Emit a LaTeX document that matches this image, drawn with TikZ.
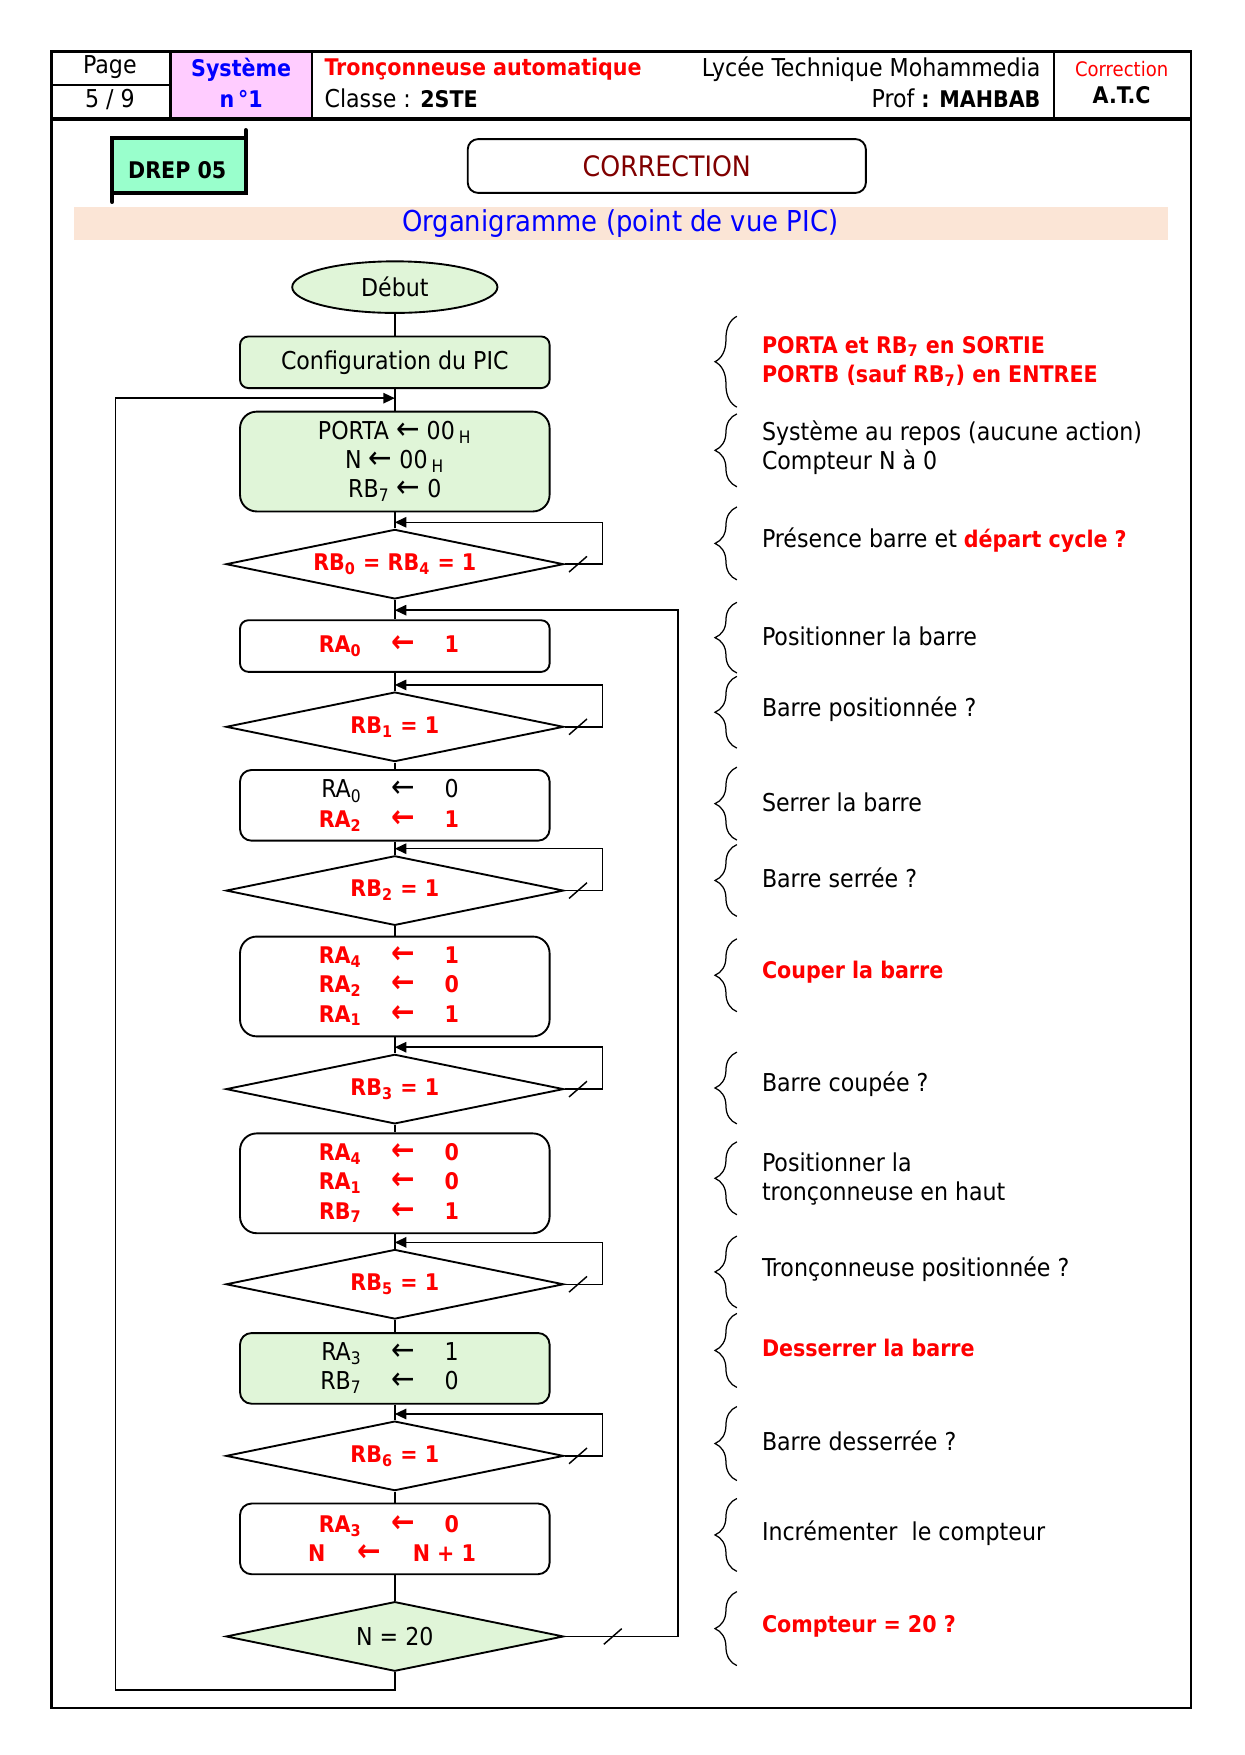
\documentclass[tikz,border=0pt,11pt]{standalone}
\usepackage{fontspec}
\IfFontExistsTF{DejaVu Sans Condensed}{\setmainfont{DejaVu Sans Condensed}}{\setmainfont{DejaVu Sans}[Scale=0.9]}
\usetikzlibrary{shapes.geometric,arrows.meta,decorations.pathreplacing}

\newlength\pxu
\setlength\pxu{0.0189cm}

\definecolor{vertclair}{RGB}{224,245,216}
\definecolor{rose}{RGB}{255,204,255}
\definecolor{drepvert}{RGB}{153,255,204}
\definecolor{peche}{RGB}{251,229,214}
\definecolor{rougefonce}{RGB}{128,0,0}

\renewcommand{\normalsize}{\fontsize{11.8}{14}\selectfont}
\AtBeginDocument{\normalsize}
\newcommand{\gras}{\fontsize{11}{14}\selectfont\bfseries}
\newcommand{\fl}{\smash{\fontsize{15}{14}\selectfont ←}}
\newcommand{\affect}[2]{\makebox[56\pxu][r]{#1}\makebox[74\pxu]{\fl}\makebox[41\pxu][l]{#2}}
\newcommand{\rouge}[1]{{\color{red}\gras #1}}

\tikzset{
	trait/.style={line width=0.7pt},
	boite/.style={draw, line width=0.9pt, rounded corners=4pt, minimum width=276\pxu, inner sep=0pt, align=center},
	test/.style={draw, diamond, aspect=5, line width=0.9pt, minimum width=301\pxu, minimum height=62\pxu, inner sep=0pt, text=red, font=\gras},
	accolade/.style={decorate, decoration={brace, amplitude=10.5pt}, line width=0.6pt},
	note/.style={anchor=west, align=left, inner sep=0pt}
}

\begin{document}
\begin{tikzpicture}[x=\pxu, y=-\pxu, >={Triangle[length=5.5pt,width=5pt]}]

		\useasboundingbox (0,0) rectangle (1110,1564.7);

		% cartouche
		\fill[rose] (152,46) rectangle (278,106);
		\draw[line width=1.1pt] (46,46) rectangle (1062,1523);
		\draw[line width=1.6pt] (46,106) -- (1062,106);
		\draw[line width=1.1pt] (152,46) -- (152,106) (278,46) -- (278,106) (940,46) -- (940,106);
		\draw[line width=1.1pt] (46,76) -- (152,76);

		\node (page) at (98,60) {Page};
		\node (numpage) at (98,89) {5 / 9};
		\node[text=blue, font=\gras] (systeme) at (215,62) {Système};
		\node[text=blue, font=\gras] (numsys) at (215,88) {n\,°1};
		\node[anchor=west, inner sep=0pt, text=red, font=\gras] (titre) at (289,62) {Tronçonneuse automatique};
		\node[anchor=west, inner sep=0pt] (classe) at (289,88) {Classe : {\gras 2STE}};
		\node[anchor=east, inner sep=0pt] (lycee) at (928,62) {Lycée Technique Mohammedia};
		\node[anchor=east, inner sep=0pt] (prof) at (928,88) {Prof {\gras : MAHBAB}};
		\node[text=red, font=\fontsize{9.6}{11}\selectfont] (corr) at (1000,62) {Correction};
		\node[font=\gras] (atc) at (1000,85) {A.T.C};

		% DREP
		\fill[drepvert] (100,123) rectangle (219,172);
		\draw[line width=2pt] (100,123) rectangle (219,172);
		\draw[line width=2pt, line cap=round] (100,172) -- (100,180) (219,123) -- (219,116);
		\node[font=\gras] (drep) at (158,152) {DREP 05};

		\node[draw, line width=0.9pt, rounded corners=5pt, minimum width=355\pxu, minimum height=48\pxu, text=rougefonce, font=\fontsize{13.5}{15}\selectfont] (correction) at (594.5,148) {CORRECTION};

		\fill[peche] (66,185) rectangle (1041,214);
		\node[text=blue, font=\fontsize{13.8}{15}\selectfont] (organi) at (553,199.5) {Organigramme (point de vue PIC)};

		% organigramme
		\node[draw, ellipse, line width=0.9pt, fill=vertclair, minimum width=183\pxu, minimum height=46\pxu] (debut) at (352,256) {Début};
		\node[boite, fill=vertclair, minimum height=46\pxu] (config) at (352,323) {Configuration du PIC};
		\node[boite, fill=vertclair, minimum height=89\pxu, rounded corners=8pt] (init) at (352,411.5) {PORTA \fl{} 00\,\textsubscript{H}\\ N \fl{} 00\,\textsubscript{H}\\ RB\textsubscript{7} \fl{} 0};
		\node[test] (d1) at (352,503) {RB\textsubscript{0} = RB\textsubscript{4} = 1};
		\node[boite, minimum height=46\pxu] (b1) at (352,576) {\rouge{\affect{RA\textsubscript{0}}{1}}};
		\node[test] (d2) at (352,648) {RB\textsubscript{1} = 1};
		\node[boite, minimum height=63\pxu, rounded corners=5.5pt] (b2) at (352,718) {\affect{RA\textsubscript{0}}{0}\\ \rouge{\affect{RA\textsubscript{2}}{1}}};
		\node[test] (d3) at (352,794) {RB\textsubscript{2} = 1};
		\node[boite, minimum height=89\pxu, rounded corners=8pt] (b3) at (352,879.5) {\rouge{\affect{RA\textsubscript{4}}{1}}\\ \rouge{\affect{RA\textsubscript{2}}{0}}\\ \rouge{\affect{RA\textsubscript{1}}{1}}};
		\node[test] (d4) at (352,971) {RB\textsubscript{3} = 1};
		\node[boite, minimum height=89\pxu, rounded corners=8pt] (b4) at (352,1055) {\rouge{\affect{RA\textsubscript{4}}{0}}\\ \rouge{\affect{RA\textsubscript{1}}{0}}\\ \rouge{\affect{RB\textsubscript{7}}{1}}};
		\node[test] (d5) at (352,1145) {RB\textsubscript{5} = 1};
		\node[boite, fill=vertclair, minimum height=63\pxu, rounded corners=5.5pt] (b5) at (352,1220) {\affect{RA\textsubscript{3}}{1}\\ \affect{RB\textsubscript{7}}{0}};
		\node[test] (d6) at (352,1298) {RB\textsubscript{6} = 1};
		\node[boite, minimum height=63\pxu, rounded corners=5.5pt] (b6) at (352,1372) {\rouge{\affect{RA\textsubscript{3}}{0}}\\ \rouge{\makebox[20\pxu][r]{N}\makebox[78\pxu]{\fl}\makebox[66\pxu][l]{N + 1}}};
		\node[test, fill=vertclair, text=black, font=\normalsize] (d7) at (352,1459) {N = 20};

		\foreach \a/\b in {debut/config, config/init, init/d1, d1/b1, b1/d2, d2/b2, b2/d3, d3/b3, b3/d4, d4/b4, b4/d5, d5/b5, b5/d6, d6/b6, b6/d7}
			\draw[trait] (\a) -- (\b);

		% attentes
		\foreach \t in {d1,d2,d3,d4,d5,d6}{
			\draw[trait,->] (\t.east) -- ++(34,0) |- ([yshift=5.5\pxu]\t.north);
			\draw[trait] ([xshift=4\pxu,yshift=-7\pxu]\t.east) -- ++(16,-14);
		}

		% retours
		\coordinate (retour1) at (352,544);
		\coordinate (retour0) at (352,355);
		\coordinate (coin) at (103,355);
		\draw[trait,->] (d7.east) -- ++(101,0) |- (retour1);
		\draw[trait] ([xshift=35\pxu,yshift=-7\pxu]d7.east) -- ++(16,-14);
		\draw[trait,->] (d7.south) -- ++(0,16) -| (coin) -- (retour0);

		% commentaires
		\foreach \h/\b in {282/363, 369/434, 452/517, 537/600, 603/667, 684/749, 753/817, 837/902, 938/1002, 1018/1083, 1102/1166, 1171/1237, 1254/1320, 1336/1401, 1419/1485}
			\draw[accolade] (657,\b) -- (657,\h);

		\node[note, text=red, font=\gras] (n1) at (679,322) {PORTA et RB\textsubscript{7} en SORTIE\\ PORTB (sauf RB\textsubscript{7}) en ENTREE};
		\node[note] (n2) at (679,399) {Système au repos (aucune action)\\ Compteur N à 0};
		\node[note] (n3) at (679,482) {Présence barre et \rouge{départ cycle ?}};
		\node[note] (n4) at (679,567) {Positionner la barre};
		\node[note] (n5) at (679,632) {Barre positionnée ?};
		\node[note] (n6) at (679,715) {Serrer la barre};
		\node[note] (n7) at (679,783) {Barre serrée ?};
		\node[note, text=red, font=\gras] (n8) at (679,867) {Couper la barre};
		\node[note] (n9) at (679,967) {Barre coupée ?};
		\node[note] (n10) at (679,1051) {Positionner la\\ tronçonneuse en haut};
		\node[note] (n11) at (679,1132) {Tronçonneuse positionnée ?};
		\node[note, text=red, font=\gras] (n12) at (679,1202) {Desserrer la barre};
		\node[note] (n13) at (679,1285) {Barre desserrée ?};
		\node[note] (n14) at (679,1367) {Incrémenter\ \ le compteur};
		\node[note, text=red, font=\gras] (n15) at (679,1450) {Compteur = 20 ?};

	\end{tikzpicture}
\end{document}
